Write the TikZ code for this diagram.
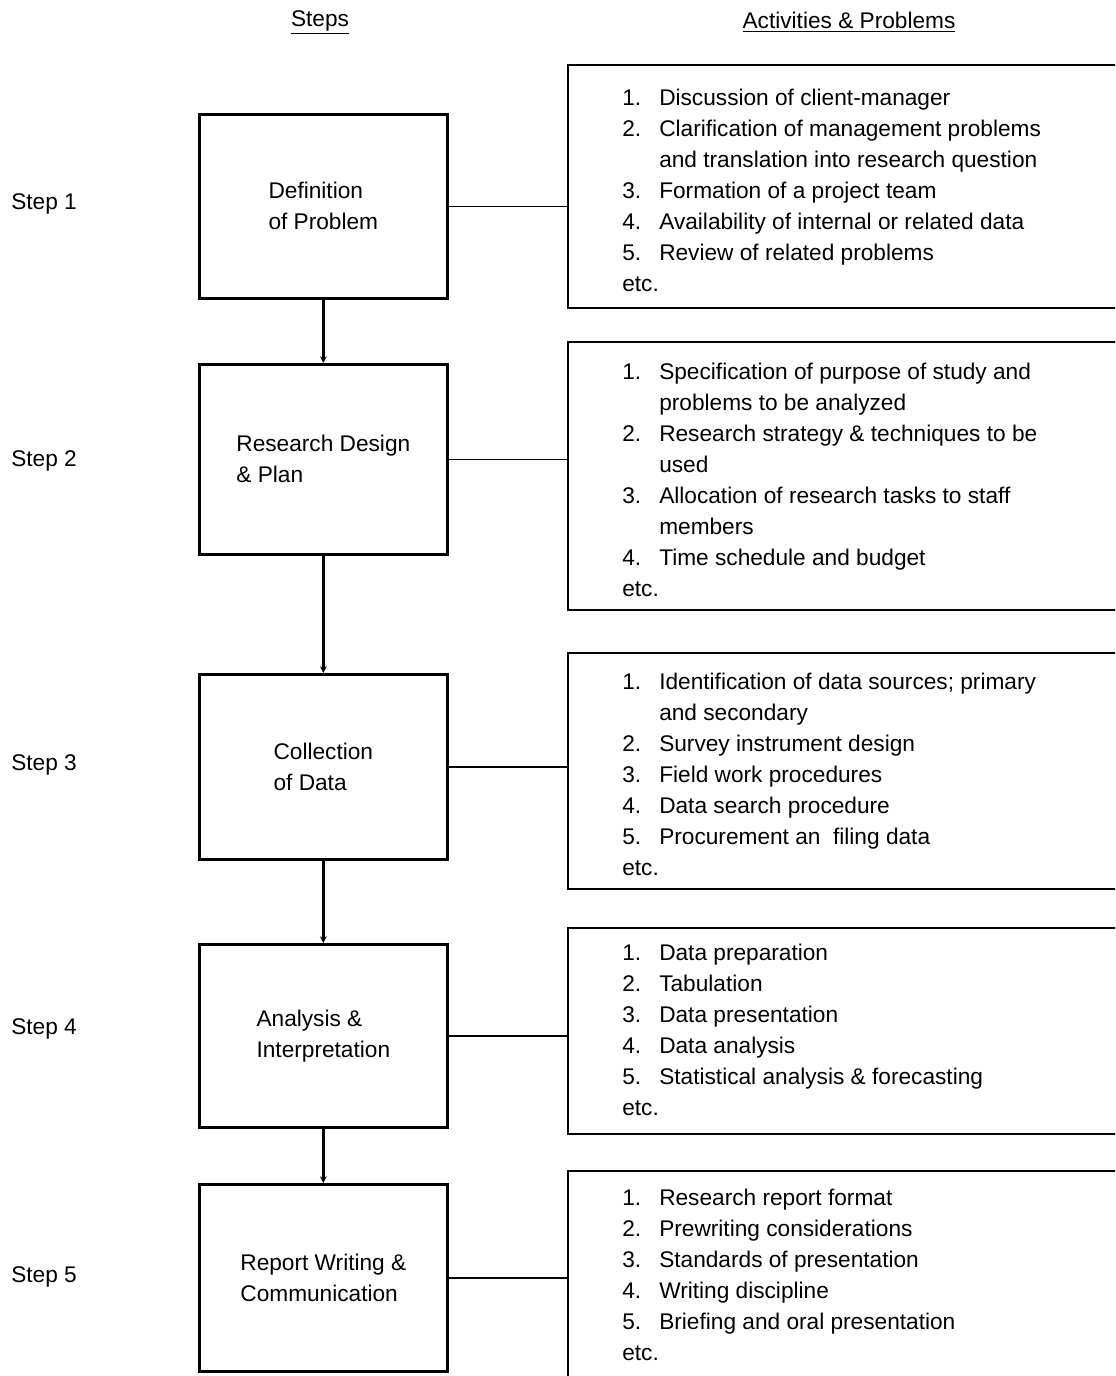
\documentclass[tikz,border=0pt]{standalone}
\usepackage{fontspec}
\setmainfont{Liberation Sans}
\usetikzlibrary{arrows.meta,calc}
\tikzset{
 stepbox/.style={draw, line width=2pt, minimum width=186pt, inner sep=0pt, anchor=north west,
   align=left, font=\fontsize{17}{23.25}\selectfont},
 actbox/.style={draw, line width=1.8pt, minimum width=418.5pt, inner sep=0pt, anchor=north west},
 acttext/.style={font=\fontsize{17}{23.25}\selectfont, inner sep=0pt, align=left, anchor=north west},
 steplabel/.style={font=\fontsize{17}{20}\selectfont, inner sep=0pt, anchor=west},
 header/.style={font=\fontsize{17}{20}\selectfont, inner sep=0pt},
 link/.style={line width=1pt},
 flow/.style={line width=2pt, -{Stealth[length=5pt,width=5pt]}},
}
\newcommand{\itm}[1]{\makebox[27.75pt][l]{#1}}
\newcommand{\cnt}{\hspace*{27.75pt}}
\newcommand{\fst}{\rule{0pt}{14pt}}
\begin{document}
\begin{tikzpicture}[x=0.75pt,y=-0.75pt]
\useasboundingbox (0,0) rectangle (1115,1376);
\clip (0,0) rectangle (1115,1376);
\fill[white] (0,0) rectangle (1115,1376);

% headers
\node[header] (hsteps) at (320,22) {\underline{Steps}};
\node[header] (hact) at (849,22) {\underline{Activities \& Problems}};

% step labels
\node[steplabel] (l1) at (11,204) {Step 1};
\node[steplabel] (l2) at (11,461) {Step 2};
\node[steplabel] (l3) at (11,765) {Step 3};
\node[steplabel] (l4) at (11,1029) {Step 4};
\node[steplabel] (l5) at (11,1277) {Step 5};

% step boxes
\node[stepbox, minimum height=138pt] (s1) at (198,113) {Definition\\of Problem};
\node[stepbox, minimum height=142.5pt] (s2) at (198,363) {Research Design\\\& Plan};
\node[stepbox, minimum height=138.75pt] (s3) at (198,673) {Collection\\of Data};
\node[stepbox, minimum height=137.25pt] (s4) at (198,943) {Analysis \&\\Interpretation};
\node[stepbox, minimum height=140.25pt] (s5) at (198,1183) {Report Writing \&\\Communication};

% activity boxes
\node[actbox, minimum height=182.25pt] (a1) at (567,64) {};
\node[actbox, minimum height=201pt] (a2) at (567,341) {};
\node[actbox, minimum height=177pt] (a3) at (567,652) {};
\node[actbox, minimum height=154.5pt] (a4) at (567,927) {};
\node[actbox, minimum height=165pt] (a5) at (567,1170) {};

% activity texts
\node[acttext] (t1) at (622,86.3) {\fst\itm{1.}Discussion of client-manager\\
\itm{2.}Clarification of management problems\\
\cnt and translation into research question\\
\itm{3.}Formation of a project team\\
\itm{4.}Availability of internal or related data\\
\itm{5.}Review of related problems\\
etc.};
\node[acttext] (t2) at (622,360.3) {\fst\itm{1.}Specification of purpose of study and\\
\cnt problems to be analyzed\\
\itm{2.}Research strategy \& techniques to be\\
\cnt used\\
\itm{3.}Allocation of research tasks to staff\\
\cnt members\\
\itm{4.}Time schedule and budget\\
etc.};
\node[acttext] (t3) at (622,670.3) {\fst\itm{1.}Identification of data sources; primary\\
\cnt and secondary\\
\itm{2.}Survey instrument design\\
\itm{3.}Field work procedures\\
\itm{4.}Data search procedure\\
\itm{5.}Procurement an\ \ filing data\\
etc.};
\node[acttext] (t4) at (622,941.3) {\fst\itm{1.}Data preparation\\
\itm{2.}Tabulation\\
\itm{3.}Data presentation\\
\itm{4.}Data analysis\\
\itm{5.}Statistical analysis \& forecasting\\
etc.};
\node[acttext] (t5) at (622,1186.3) {\fst\itm{1.}Research report format\\
\itm{2.}Prewriting considerations\\
\itm{3.}Standards of presentation\\
\itm{4.}Writing discipline\\
\itm{5.}Briefing and oral presentation\\
etc.};

% links
\draw[link] (s1.east) -- (s1.east -| a1.west);
\draw[link] (s2.east) -- (s2.east -| a2.west);
\draw[link] (s3.east) -- (s3.east -| a3.west);
\draw[link] (s4.east) -- (s4.east -| a4.west);
\draw[link] (s5.east) -- (s5.east -| a5.west);

% flow arrows
\draw[flow] (s1.south) -- (s2.north);
\draw[flow] (s2.south) -- (s3.north);
\draw[flow] (s3.south) -- (s4.north);
\draw[flow] (s4.south) -- (s5.north);
\end{tikzpicture}
\end{document}
